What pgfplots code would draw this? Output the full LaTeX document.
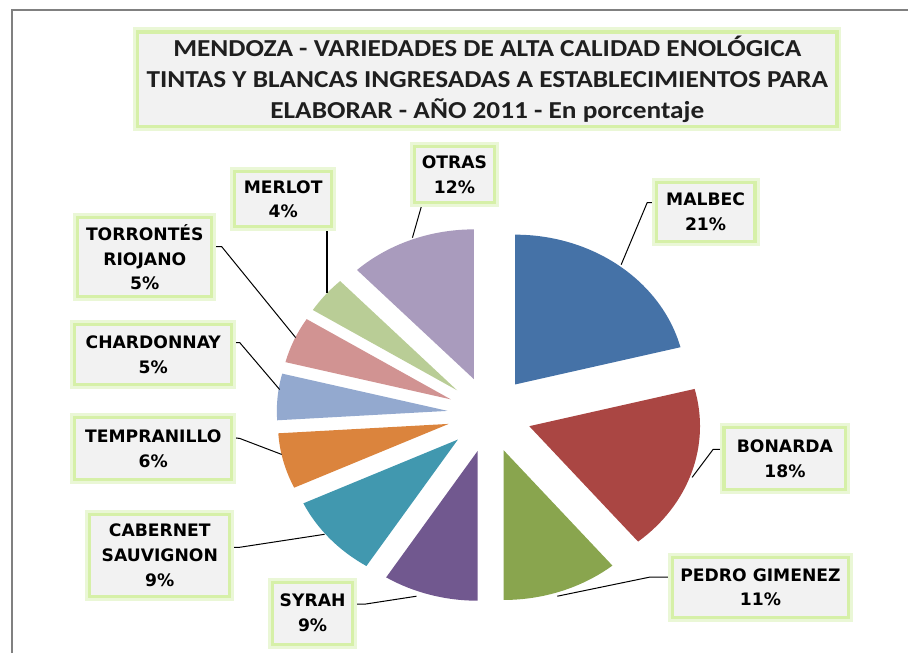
\documentclass[border=0pt]{standalone}
\usepackage{pgfplots}
\pgfplotsset{compat=1.18}
\usepackage{fontspec}
\setmainfont{Carlito}
\newfontfamily\titlefont{Carlito}[FakeStretch=1.12]
\newfontfamily\labfont{DejaVu Sans}
\usetikzlibrary{calc}
\definecolor{cMalbec}{HTML}{4572A7}
\definecolor{cBonarda}{HTML}{AA4643}
\definecolor{cPedro}{HTML}{89A54E}
\definecolor{cSyrah}{HTML}{71588F}
\definecolor{cCabernet}{HTML}{4198AF}
\definecolor{cTempranillo}{HTML}{DB843D}
\definecolor{cChardonnay}{HTML}{93A9CF}
\definecolor{cTorrontes}{HTML}{D19392}
\definecolor{cMerlot}{HTML}{B9CD96}
\definecolor{cOtras}{HTML}{A99BBD}
\definecolor{boxgray}{HTML}{F2F2F2}
\definecolor{glowA}{HTML}{D6F0A8}
\definecolor{glowB}{HTML}{EAF7D6}
\definecolor{frame}{HTML}{808080}
% #1 cumulative start (%), #2 value (%), #3 colour
\newcommand\slice[3]{%
  \fill[#3] ($(axis cs:490,239)+({90-3.6*#1-1.8*#2}:21pt and 19pt)$)
     -- ++({90-3.6*#1}:85.5pt and 75pt)
     arc[start angle={90-3.6*#1}, end angle={90-3.6*(#1+#2)}, x radius=85.5pt, y radius=75pt]
     -- cycle;}
\tikzset{lbox/.style={fill=boxgray, draw=glowA, line width=1.6pt,
   preaction={draw=glowB, line width=4.5pt},
   align=center, inner sep=0pt,
   font=\labfont\bfseries\fontsize{8.6}{12.5}\selectfont, text=black},
   lead/.style={black, line width=0.5pt}}
\begin{document}
\begin{tikzpicture}
\begin{axis}[x=0.5pt, y=0.5pt, xmin=0, xmax=909, ymin=0, ymax=654,
  hide axis, clip=false, scale only axis]
\path (axis cs:0,0) rectangle (axis cs:909,654);
\draw[frame, line width=1.2pt] (axis cs:12,0) -- (axis cs:12,644) -- (axis cs:909,644);
% pie (values in percent, clockwise from 12 o'clock)
\slice{0}{21}{cMalbec}
\slice{21}{18}{cBonarda}
\slice{39}{11}{cPedro}
\slice{50}{9}{cSyrah}
\slice{59}{9}{cCabernet}
\slice{68}{6}{cTempranillo}
\slice{74}{5}{cChardonnay}
\slice{79}{5}{cTorrontes}
\slice{84}{4}{cMerlot}
\slice{88}{12}{cOtras}
% title
\node[fill=boxgray, draw=glowA, line width=1.6pt, preaction={draw=glowB, line width=4.5pt},
  minimum width=350pt, minimum height=47.5pt, inner sep=0pt, align=center,
  font=\titlefont\bfseries\fontsize{12.2}{15.5}\selectfont, text={black!88}]
  at (axis cs:488,574.5) {MENDOZA - VARIEDADES DE ALTA CALIDAD ENOLÓGICA\\TINTAS Y BLANCAS INGRESADAS A ESTABLECIMIENTOS PARA\\ELABORAR - AÑO 2011 - En porcentaje};
% leader lines
\draw[lead] (axis cs:657,451) -- (axis cs:648,451) -- (axis cs:622,389);
\draw[lead] (axis cs:423,451) -- (axis cs:413,416);
\draw[black, line width=1pt] (axis cs:327,427) -- (axis cs:327,361);
\draw[lead] (axis cs:212,407) -- (axis cs:222,407) -- (axis cs:296,316);
\draw[lead] (axis cs:232,311) -- (axis cs:240,311) -- (axis cs:280,264);
\draw[lead] (axis cs:232,216) -- (axis cs:240,215) -- (axis cs:282,199);
\draw[lead] (axis cs:230,106) -- (axis cs:240,106) -- (axis cs:325,119);
\draw[lead] (axis cs:353,49) -- (axis cs:365,49) -- (axis cs:417,57);
\draw[lead] (axis cs:725,204) -- (axis cs:714,204) -- (axis cs:693,176);
\draw[lead] (axis cs:673,76) -- (axis cs:650,76) -- (axis cs:558,57);
% labels
\node[lbox, minimum width=40pt, minimum height=28pt] at (axis cs:455,479) {OTRAS\\12\%};
\node[lbox, minimum width=48.5pt, minimum height=27.5pt] at (axis cs:283.5,454.5) {MERLOT\\4\%};
\node[lbox, minimum width=49.5pt, minimum height=29.5pt] at (axis cs:706.5,441.5) {MALBEC\\21\%};
\node[lbox, minimum width=67pt, minimum height=39.5pt] at (axis cs:145,396.5) {TORRONTÉS\\RIOJANO\\5\%};
\node[lbox, minimum width=78.5pt, minimum height=30pt] at (axis cs:153.5,299) {CHARDONNAY\\5\%};
\node[lbox, minimum width=78.5pt, minimum height=31pt] at (axis cs:153.5,205) {TEMPRANILLO\\6\%};
\node[lbox, minimum width=70pt, minimum height=41pt] at (axis cs:160,98) {CABERNET\\SAUVIGNON\\9\%};
\node[lbox, minimum width=40pt, minimum height=31pt] at (axis cs:313,40) {SYRAH\\9\%};
\node[lbox, minimum width=61pt, minimum height=31pt] at (axis cs:786,195) {BONARDA\\18\%};
\node[lbox, minimum width=88.5pt, minimum height=30pt] at (axis cs:761.5,66) {PEDRO GIMENEZ\\11\%};
\end{axis}
\end{tikzpicture}
\end{document}
